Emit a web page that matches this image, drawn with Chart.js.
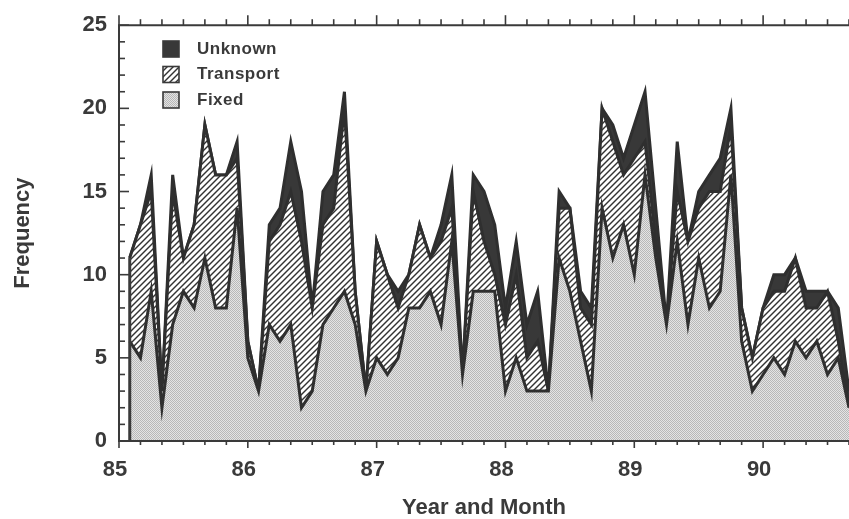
<!DOCTYPE html>
<html>
<head>
<meta charset="utf-8">
<script src="https://cdn.jsdelivr.net/npm/chart.js@4.4.0/dist/chart.umd.min.js"></script>
<style>
  html, body { margin: 0; padding: 0; background: #fff; }
  #wrap { width: 849px; height: 519px; }
</style>
</head>
<body>
<div id="wrap"><canvas id="chart" width="849" height="519"></canvas></div>
<script>
// monthly counts, starting Feb 85
const fixed = [6,5,9,2,7,9,8,11,8,8, 14,5,3,7,6,7,2,3,7,8, 9,7,3,5,4,5,8,8,9,7, 12,4,9,9,9,3,5,3,3,3, 11,9,6,3,14,11,13,10,16,11, 7,12,7,11,8,9,16,6,3,4, 5,4,6,5,6,4,5,2];
const transport = [5,8,6,1,8,2,5,8,8,8, 3,1,0,5,7,8,10,5,6,6, 11,2,0,7,6,3,2,5,2,5, 2,0,6,3,1,4,5,2,3,0, 3,5,2,4,6,7,3,7,2,1, 0,3,5,3,7,6,3,2,2,4, 4,5,5,3,2,5,1,0];
const unknown = [0,0,1,0,1,0,0,0,0,0, 1,0,0,1,1,3,3,0,2,2, 1,0,0,0,0,1,0,0,0,1, 2,0,1,3,3,1,2,2,3,0, 1,0,1,1,0,1,1,2,3,2, 0,3,0,1,1,2,1,0,0,0, 1,1,0,1,1,0,2,1];
const xTicks = [85, 86, 87, 88, 89, 90];
const yTicks = [0, 5, 10, 15, 20, 25];
const months = fixed.map((_, i) => 85 + (i + 1) / 12);

const FONT = "'Liberation Sans', Arial, sans-serif";
const INK = '#3a3a3a';

function makePattern(size, draw) {
    const c = document.createElement('canvas');
    c.width = size; c.height = size;
    const g = c.getContext('2d');
    draw(g, size);
    return c.getContext('2d').createPattern(c, 'repeat');
}

const stipple = makePattern(2, function (g) {
    g.fillStyle = '#e4e4e4'; g.fillRect(0, 0, 2, 2);
    g.fillStyle = '#b8b8b8'; g.fillRect(0, 0, 1, 1); g.fillRect(1, 1, 1, 1);
});
const hatch = makePattern(6, function (g, s) {
    g.fillStyle = '#fff'; g.fillRect(0, 0, s, s);
    g.strokeStyle = '#333'; g.lineWidth = 1.4;
    for (const o of [-s, 0, s]) {
        g.beginPath(); g.moveTo(o - 1, s + 1); g.lineTo(o + s + 1, -1); g.stroke();
    }
});
const dark = '#383838';

function pts(arr) { return months.map((m, i) => ({ x: m, y: arr[i] })); }

const frame = {
    id: 'frame',
    afterDatasetsDraw(chart) {
        const ctx = chart.ctx;
        const a = chart.chartArea;
        const xs = chart.scales.x, ys = chart.scales.y;
        ctx.save();
        ctx.strokeStyle = '#3a3a3a';
        ctx.lineCap = 'butt';

        // left edge of the stacked area
        ctx.lineWidth = 3;
        const x0 = xs.getPixelForValue(months[0]);
        ctx.beginPath();
        ctx.moveTo(x0, ys.getPixelForValue(0));
        ctx.lineTo(x0, ys.getPixelForValue(fixed[0] + transport[0] + unknown[0]));
        ctx.stroke();

        // axes frame
        ctx.lineWidth = 2;
        ctx.beginPath();
        ctx.moveTo(a.right + 2, a.top); ctx.lineTo(a.left, a.top);
        ctx.lineTo(a.left, a.bottom); ctx.lineTo(a.right + 2, a.bottom);
        ctx.stroke();

        // y ticks (inward)
        ctx.lineWidth = 1.6;
        for (let v = ys.min; v <= ys.max; v++) {
            const y = ys.getPixelForValue(v);
            const len = yTicks.includes(v) ? 10 : 6;
            ctx.beginPath(); ctx.moveTo(a.left, y); ctx.lineTo(a.left + len, y); ctx.stroke();
        }
        // x ticks every two months, top and bottom (outward)
        for (let k = 0; xs.min + k / 6 <= xs.max + 1e-6; k++) {
            const v = xs.min + k / 6;
            const x = xs.getPixelForValue(v);
            const major = k % 6 === 0;
            ctx.beginPath(); ctx.moveTo(x, a.bottom); ctx.lineTo(x, a.bottom + (major ? 7 : 4)); ctx.stroke();
            ctx.beginPath(); ctx.moveTo(x, a.top); ctx.lineTo(x, a.top - (major ? 10 : 6)); ctx.stroke();
        }

        // legend
        const items = [chart.data.datasets[2], chart.data.datasets[1], chart.data.datasets[0]];
        ctx.font = 'bold 17px ' + FONT;
        ctx.textBaseline = 'middle';
        items.forEach(function (ds, i) {
            const bx = 163, by = 41 + i * 25.5;
            ctx.fillStyle = ds.backgroundColor;
            ctx.fillRect(bx, by, 16, 16);
            ctx.lineWidth = 1.6;
            ctx.strokeRect(bx, by, 16, 16);
            ctx.fillStyle = INK;
            ctx.letterSpacing = '0.5px';
            ctx.fillText(ds.label, 197, by + 8);
        });
        ctx.restore();
    }
};

new Chart(document.getElementById('chart'), {
    type: 'line',
    data: {
        datasets: [
            { label: 'Fixed', data: pts(fixed), fill: 'origin', backgroundColor: stipple },
            { label: 'Transport', data: pts(transport), fill: '-1', backgroundColor: hatch },
            { label: 'Unknown', data: pts(unknown), fill: '-1', backgroundColor: dark }
        ]
    },
    options: {
        responsive: false,
        devicePixelRatio: 1,
        animation: false,
        layout: { padding: { top: 22, right: 0, left: 0, bottom: 0 } },
        elements: {
            line: { borderColor: '#2f2f2f', borderWidth: 3, tension: 0, borderJoinStyle: 'miter' },
            point: { radius: 0 }
        },
        plugins: {
            legend: { display: false },
            tooltip: { enabled: false }
        },
        scales: {
            x: {
                type: 'linear',
                min: 85,
                max: 85 + 68 / 12,
                afterFit: function (s) { s.height = 78; },
                grid: { display: false, drawTicks: false },
                border: { display: false },
                afterBuildTicks: function (s) { s.ticks = xTicks.map(v => ({ value: v })); },
                ticks: {
                    padding: 16,
                    maxRotation: 0,
                    autoSkip: false,
                    labelOffset: -4,
                    color: INK,
                    font: { family: FONT, size: 22, weight: 'bold' },
                    callback: v => String(v)
                },
                title: {
                    display: true,
                    text: 'Year and Month',
                    color: INK,
                    font: { family: FONT, size: 22, weight: 'bold', lineHeight: 1 },
                    padding: { top: 0, bottom: 0 }
                }
            },
            y: {
                stacked: true,
                min: 0,
                max: 25,
                afterFit: function (s) { s.width = 119; },
                grid: { display: false, drawTicks: false },
                border: { display: false },
                afterBuildTicks: function (s) { s.ticks = yTicks.map(v => ({ value: v })); },
                ticks: {
                    padding: 12,
                    color: INK,
                    font: { family: FONT, size: 22, weight: 'bold' }
                },
                title: {
                    display: true,
                    text: 'Frequency',
                    color: INK,
                    font: { family: FONT, size: 22, weight: 'bold', lineHeight: 1 },
                    padding: { top: 12, bottom: 0 }
                }
            }
        }
    },
    plugins: [frame]
});
</script>
</body>
</html>
